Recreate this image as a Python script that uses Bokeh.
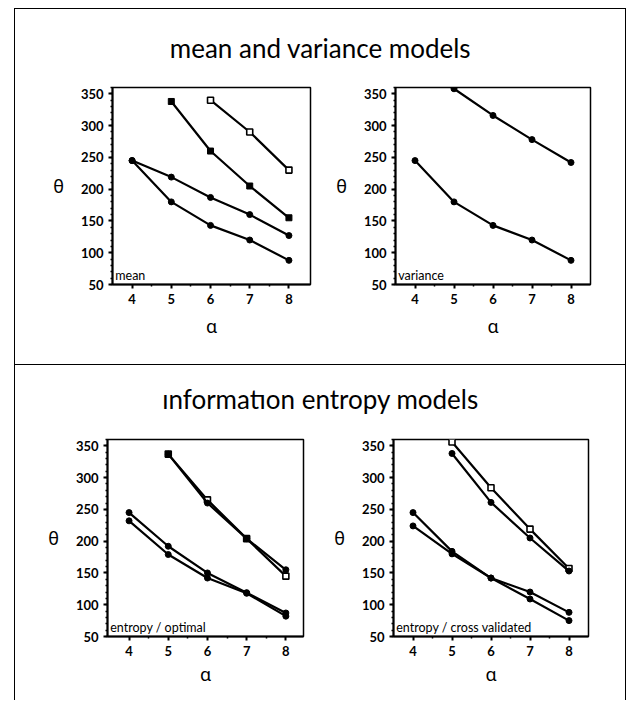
from bokeh.plotting import figure
from bokeh.models import Range1d, Div, Label, FixedTicker
from bokeh.layouts import row, column
from bokeh.embed import file_html
from bokeh.resources import INLINE
from bokeh.core.properties import value

# ---------------- data ----------------
alpha_all = [4, 5, 6, 7, 8]
alpha_5to8 = [5, 6, 7, 8]
alpha_6to8 = [6, 7, 8]

x_ticks = [4, 5, 6, 7, 8]
y_ticks = [50, 100, 150, 200, 250, 300, 350]

title_top = "mean and variance models"
title_bottom = "\u0131nformat\u0131on entropy models"

# mean models
mean_a = [340, 290, 230]            # alpha 6..8
mean_b = [338, 260, 205, 155]       # alpha 5..8
mean_c = [245, 219, 187, 160, 127]  # alpha 4..8
mean_d = [245, 180, 143, 120, 88]   # alpha 4..8

# variance models
var_hi = [358, 316, 278, 242]       # alpha 5..8
var_lo = [245, 180, 143, 120, 88]   # alpha 4..8

# entropy / optimal
opt_hi1 = [337, 265, 204, 145]
opt_hi2 = [337, 260, 204, 155]
opt_lo1 = [245, 192, 150, 119, 87]
opt_lo2 = [232, 179, 142, 118, 82]

# entropy / cross validated
cv_hi1 = [356, 284, 219, 157]
cv_hi2 = [338, 261, 205, 153]
cv_lo1 = [245, 184, 142, 120, 88]
cv_lo2 = [224, 180, 142, 109, 75]

TICK_FONT = "Lato"
GREEK_FONT = "Noto Sans"


def panel(series, label, width, height, bl, br, bt, bb, x_lo, x_hi, xlab_standoff):
    p = figure(width=width, height=height,
               x_range=Range1d(x_lo, x_hi), y_range=Range1d(50, 360),
               output_backend="svg", toolbar_location=None,
               min_border_left=bl, min_border_right=br,
               min_border_top=bt, min_border_bottom=bb)
    p.grid.visible = False
    p.outline_line_color = "black"
    p.outline_line_width = 1.5
    p.background_fill_color = "white"
    p.border_fill_color = "white"
    for xs, ys, mk in series:
        p.line(xs, ys, line_color="black", line_width=2.2)
        if mk == "open":
            p.scatter(xs, ys, marker="square", size=6, fill_color="white",
                      line_color="black", line_width=1.6)
        elif mk == "square":
            p.scatter(xs, ys, marker="square", size=6, fill_color="black",
                      line_color="black")
        else:
            p.scatter(xs, ys, marker="circle", size=6, fill_color="black",
                      line_color="black")
    p.xaxis.ticker = FixedTicker(ticks=x_ticks,
                                 minor_ticks=[t + 0.5 for t in x_ticks[:-1]])
    p.yaxis.ticker = FixedTicker(ticks=y_ticks,
                                 minor_ticks=list(range(50, 361, 10)))
    for ax in (p.xaxis[0], p.yaxis[0]):
        ax.axis_line_width = 2
        ax.major_tick_in = 0
        ax.major_tick_out = 4
        ax.major_tick_line_width = 2
        ax.minor_tick_in = 0
        ax.minor_tick_out = 2
        ax.minor_tick_line_width = 1.5
        ax.major_label_text_font = TICK_FONT
        ax.major_label_text_font_style = "bold"
        ax.major_label_text_font_size = "13px"
        ax.major_label_text_color = "black"
        ax.major_label_standoff = 5
        ax.axis_label_text_font = GREEK_FONT
        ax.axis_label_text_font_style = "normal"
        ax.axis_label_text_font_size = "18px"
        ax.axis_label_text_color = "black"
    p.xaxis.axis_label = "\u03b1"
    p.xaxis.axis_label_standoff = xlab_standoff
    p.yaxis.axis_label = "\u03b8"
    p.yaxis.axis_label_orientation = "horizontal"
    p.yaxis.axis_label_standoff = 14
    p.add_layout(Label(x=x_lo + 0.07, y=52, text=label, text_font=TICK_FONT,
                       text_font_size="12.5px", text_baseline="bottom",
                       text_color="black"))
    return p


def title_fig(text, width, height, ypos):
    t = figure(width=width, height=height, x_range=Range1d(0, 1), y_range=Range1d(0, 1),
               output_backend="svg", toolbar_location=None,
               x_axis_location=None, y_axis_location=None, min_border=0)
    t.grid.visible = False
    t.outline_line_color = None
    t.text(x=[0.5], y=[ypos], text=[text], text_align="center", text_baseline="middle",
           text_font=value(TICK_FONT), text_font_size="26px", text_color="black")
    return t


def hline(w):
    return Div(width=w, height=1, margin=0, styles={"background-color": "black"})


def vline(h):
    return Div(width=1, height=h, margin=0, styles={"background-color": "black"})


p1 = panel([(alpha_6to8, mean_a, "open"), (alpha_5to8, mean_b, "square"),
            (alpha_all, mean_c, "circle"), (alpha_all, mean_d, "circle")],
           "mean", 305, 285, 97, 10, 8, 80, 3.5, 8.55, 7)
p2 = panel([(alpha_5to8, var_hi, "circle"), (alpha_all, var_lo, "circle")],
           "variance", 305, 285, 75, 35, 8, 80, 3.5, 8.5, 7)
p3 = panel([(alpha_5to8, opt_hi1, "open"), (alpha_5to8, opt_hi2, "circle"),
            (alpha_all, opt_lo1, "circle"), (alpha_all, opt_lo2, "circle")],
           "entropy / optimal", 305, 270, 92, 17, 9, 64, 3.45, 8.45, 3)
p4 = panel([(alpha_5to8, cv_hi1, "open"), (alpha_5to8, cv_hi2, "circle"),
            (alpha_all, cv_lo1, "circle"), (alpha_all, cv_lo2, "circle")],
           "entropy / cross validated", 305, 270, 73, 37, 9, 64, 3.5, 8.5, 3)

t1 = title_fig(title_top, 610, 70, 0.45)
t2 = title_fig(title_bottom, 610, 65, 0.48)

top = row(vline(355), column(t1, row(p1, p2)), vline(355))
bottom = row(vline(335), column(t2, row(p3, p4)), vline(335))
layout = column(hline(612), top, hline(612), bottom,
                styles={"margin-left": "14px", "margin-top": "8px"})

open("out.html", "w").write(file_html(layout, INLINE))
